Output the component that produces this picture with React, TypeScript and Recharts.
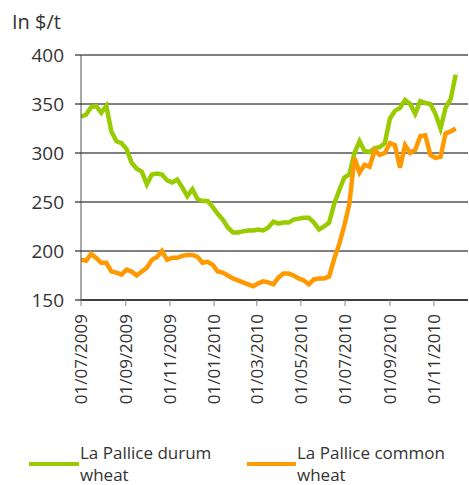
import React from "react";
import { LineChart, Line, XAxis, YAxis, CartesianGrid, Legend } from "recharts";

const dates = [
  "2009-07-01", "2009-07-08", "2009-07-15", "2009-07-22", "2009-07-29",
  "2009-08-05", "2009-08-12", "2009-08-19", "2009-08-26", "2009-09-02",
  "2009-09-09", "2009-09-16", "2009-09-23", "2009-09-30", "2009-10-07",
  "2009-10-14", "2009-10-21", "2009-10-28", "2009-11-04", "2009-11-11",
  "2009-11-18", "2009-11-25", "2009-12-02", "2009-12-09", "2009-12-16",
  "2009-12-23", "2009-12-30", "2010-01-06", "2010-01-13", "2010-01-20",
  "2010-01-27", "2010-02-03", "2010-02-10", "2010-02-17", "2010-02-24",
  "2010-03-03", "2010-03-10", "2010-03-17", "2010-03-24", "2010-03-31",
  "2010-04-07", "2010-04-14", "2010-04-21", "2010-04-28", "2010-05-05",
  "2010-05-12", "2010-05-19", "2010-05-26", "2010-06-02", "2010-06-09",
  "2010-06-16", "2010-06-23", "2010-06-30", "2010-07-07", "2010-07-14",
  "2010-07-21", "2010-07-28", "2010-08-04", "2010-08-11", "2010-08-18",
  "2010-08-25", "2010-09-01", "2010-09-08", "2010-09-15", "2010-09-22",
  "2010-09-29", "2010-10-06", "2010-10-13", "2010-10-20", "2010-10-27",
  "2010-11-03", "2010-11-10", "2010-11-17", "2010-11-24", "2010-12-01",
];

const durum = [
  337, 339, 347, 348, 341, 348, 322, 312, 310, 304,
  290, 284, 281, 268, 278, 279, 278, 272, 270, 273,
  265, 256, 263, 253, 251, 251, 245, 238, 232, 224,
  219, 219, 220, 221, 221, 222, 221, 224, 230, 228,
  229, 229, 232, 233, 234, 234, 229, 222, 225, 229,
  248, 262, 275, 278, 300, 312, 302, 301, 305, 306,
  310, 335, 343, 346, 354, 350, 340, 353, 351, 350,
  340, 325, 346, 355, 380,
];

const common = [
  191, 190, 197, 193, 188, 188, 179, 178, 176, 181,
  179, 175, 179, 183, 191, 194, 200, 191, 193, 193,
  195, 196, 196, 194, 188, 189, 186, 179, 178, 175,
  172, 170, 168, 166, 164, 167, 169, 168, 166, 173,
  177, 177, 175, 172, 170, 166, 171, 172, 172, 174,
  192, 207, 226, 248, 295, 280, 288, 286, 303, 298,
  300, 310, 308, 285, 308, 300, 303, 317, 318, 298,
  295, 296, 320, 322, 325,
];

const tickDates = [
  "2009-07-01", "2009-09-01", "2009-11-01", "2010-01-01", "2010-03-01",
  "2010-05-01", "2010-07-01", "2010-09-01", "2010-11-01",
];
const yTicks = [150, 200, 250, 300, 350, 400];
const domainDates = ["2009-07-01", "2010-12-18"];

const seriesNames = ["La Pallice durum wheat", "La Pallice common wheat"];
const colors = ["#99cc00", "#ff9900"];

const ts = (s: string) => {
  const [y, m, d] = s.split("-").map(Number);
  return Date.UTC(y, m - 1, d);
};

const data = dates.map((d, i) => ({ t: ts(d), durum: durum[i], common: common[i] }));

const fmt = (v: number) => {
  const d = new Date(v);
  const dd = String(d.getUTCDate()).padStart(2, "0");
  const mm = String(d.getUTCMonth() + 1).padStart(2, "0");
  return `${dd}/${mm}/${d.getUTCFullYear()}`;
};

const FONT = "'Open Sans', sans-serif";

const XTick = (props: any) => {
  const { x, y, payload } = props;
  return (
    <text
      x={x}
      y={y}
      transform={`rotate(-90, ${x}, ${y})`}
      dx={-6}
      dy={6}
      textAnchor="end"
      fill="#333"
      fontSize={17}
      fontFamily={FONT}
    >
      {fmt(payload.value)}
    </text>
  );
};

const LegendContent = () => {
  const items = [
    { left: 29, lineW: 50, lines: ["La Pallice durum", "wheat"], color: colors[0] },
    { left: 247, lineW: 49, lines: ["La Pallice common", "wheat"], color: colors[1] },
  ];
  return (
    <div style={{ position: "relative", width: 469, height: 45 }}>
      {items.map((it, i) => (
        <div key={i}>
          <div
            style={{
              position: "absolute",
              left: it.left,
              top: 22,
              width: it.lineW,
              height: 4,
              background: it.color,
            }}
          />
          <div
            style={{
              position: "absolute",
              left: it.left + it.lineW + 1,
              top: 2,
              fontFamily: FONT,
              fontSize: 17,
              lineHeight: "22px",
              color: "#333",
              whiteSpace: "nowrap",
            }}
          >
            {it.lines[0]}
            <br />
            {it.lines[1]}
          </div>
        </div>
      ))}
    </div>
  );
};

export default function App() {
  return (
    <div style={{ position: "absolute", left: 0, top: 0, width: 469, height: 485, background: "#fff" }}>
      <div
        style={{
          position: "absolute",
          left: 12,
          top: 8,
          fontFamily: FONT,
          fontSize: 20,
          color: "#333",
          lineHeight: "28px",
        }}
      >
        In $/t
      </div>
      <LineChart
        width={469}
        height={485}
        data={data}
        margin={{ top: 55, right: 1, bottom: 110, left: 0 }}
      >
        <CartesianGrid horizontal={true} vertical={false} stroke="#000" strokeWidth={1} />
        <XAxis
          dataKey="t"
          type="number"
          domain={[ts(domainDates[0]), ts(domainDates[1])]}
          ticks={tickDates.map(ts)}
          tick={<XTick />}
          tickLine={{ stroke: "#888" }}
          tickSize={6}
          axisLine={{ stroke: "#000" }}
          interval={0}
          allowDataOverflow
        />
        <YAxis
          width={81}
          domain={[150, 400]}
          ticks={yTicks}
          interval={0}
          tickSize={6}
          tickMargin={11}
          tickLine={{ stroke: "#000" }}
          axisLine={{ stroke: "#555" }}
          tick={{ fill: "#333", fontSize: 19, fontFamily: FONT }}
        />
        <Legend
          verticalAlign="bottom"
          content={<LegendContent />}
          wrapperStyle={{ position: "absolute", left: 0, top: 440, width: 469 }}
        />
        <Line
          type="linear"
          dataKey="durum"
          name={seriesNames[0]}
          stroke={colors[0]}
          strokeWidth={4.5}
          dot={false}
          isAnimationActive={false}
        />
        <Line
          type="linear"
          dataKey="common"
          name={seriesNames[1]}
          stroke={colors[1]}
          strokeWidth={4.5}
          dot={false}
          isAnimationActive={false}
        />
      </LineChart>
    </div>
  );
}
